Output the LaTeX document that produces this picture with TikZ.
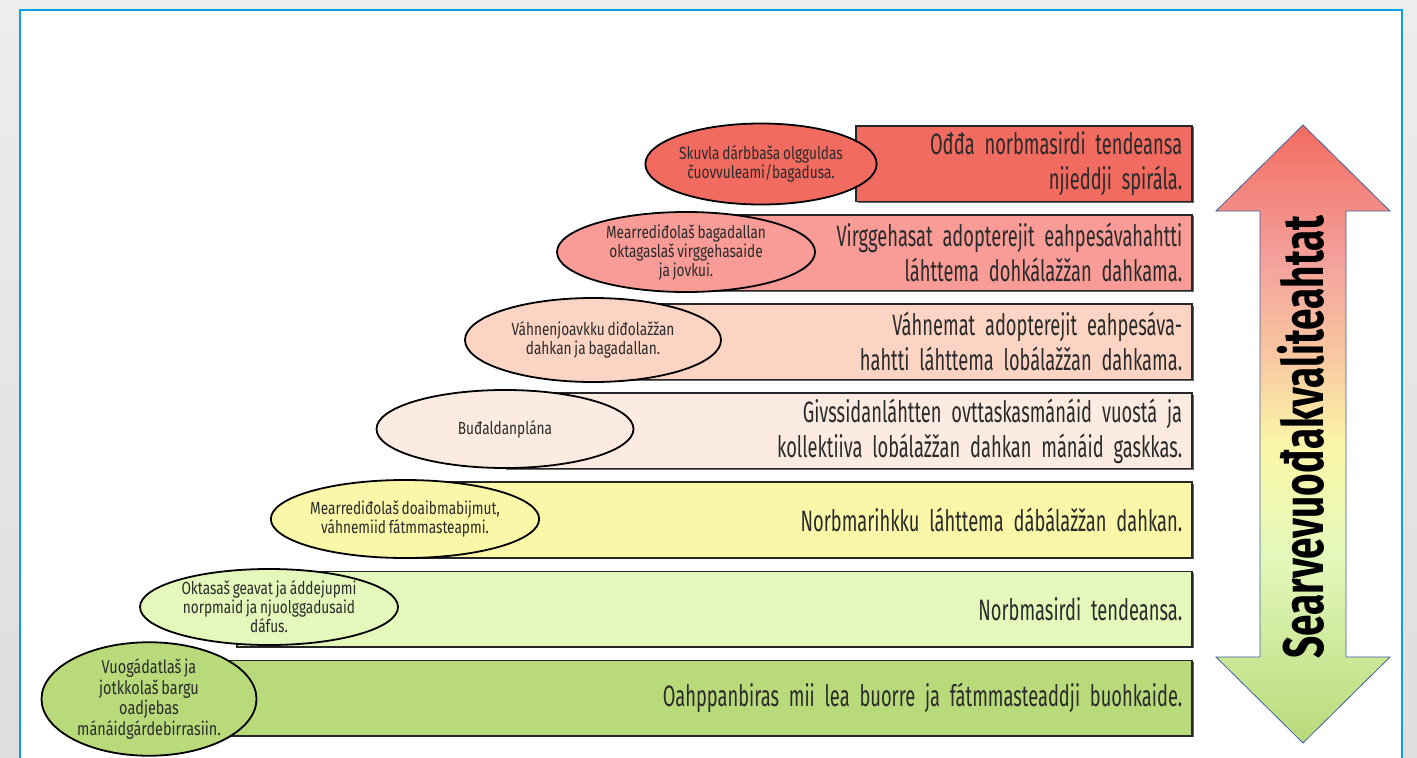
\documentclass[tikz,border=0pt]{standalone}
\usepackage{fontspec}
\setmainfont[FakeStretch=0.62]{Fira Sans}
\newfontfamily\notefont[FakeStretch=0.78]{Fira Sans}
\newfontfamily\qualfont[FakeStretch=0.68]{Fira Sans}
\usetikzlibrary{shapes.geometric,positioning,shadows}

\newcommand\lvlfont{\fontsize{29.5}{35}\selectfont\spaceskip=0.12em plus 0.03em\relax}
\newcommand\notesize{\notefont\fontsize{17.5}{19}\selectfont\spaceskip=0.16em plus 0.03em\relax}
\newcommand\notebig{\notefont\fontsize{18.5}{20.5}\selectfont\spaceskip=0.16em plus 0.03em\relax}

\definecolor{panelblue}{HTML}{0DA0E3}
\definecolor{lvlA}{HTML}{F26B60}
\definecolor{lvlB}{HTML}{F99C97}
\definecolor{lvlC}{HTML}{FCD4C3}
\definecolor{lvlD}{HTML}{FCEBE1}
\definecolor{lvlE}{HTML}{FBF7A8}
\definecolor{lvlF}{HTML}{E3F8BA}
\definecolor{lvlG}{HTML}{B8DA7A}
\definecolor{peach}{HTML}{F8C9A0}
\definecolor{pinkish}{HTML}{F4A19C}
\definecolor{txtgray}{HTML}{2A2A2A}
\definecolor{arrowline}{HTML}{41609E}

\pgfdeclareverticalshading{qualgrad}{100bp}{color(0bp)=(lvlG); color(25bp)=(lvlG); color(40bp)=(lvlF); color(49bp)=(lvlE); color(56bp)=(peach); color(64bp)=(pinkish); color(75bp)=(lvlA); color(100bp)=(lvlA)}

\begin{document}
\begin{tikzpicture}[x=1pt,y=-1pt,node distance=12pt]
	\tikzstyle{lvl}=[draw=black!85,line width=1.6pt,inner xsep=10pt,inner ysep=0pt,minimum height=75.5pt,align=right,text=txtgray,font=\lvlfont,drop shadow={shadow xshift=1.5pt,shadow yshift=-1.5pt,fill=black,opacity=.6}]
	\tikzstyle{note}=[ellipse,draw=black,line width=1.8pt,inner sep=0pt,align=center,text=txtgray,font=\notesize]

	% background and frame
	\useasboundingbox (0,0) rectangle (1417,758);
	\shade[top color=black!7,bottom color=black!13] (0,0) rectangle (1417,758);
	\draw[panelblue,line width=2.5pt,fill=white] (20,10) rectangle (1402,780);

	% levels
	\node[lvl,fill=lvlA,text width=316pt,anchor=north east] (l1) at (1193,125) {Ođđa norbmasirdi tendeansa\\njieddji spirála.};
	\node[lvl,fill=lvlB,text width=483pt,below=12pt of l1.south east,anchor=north east] (l2) {Virggehasat adopterejit eahpesávahahtti\\láhttema dohkálažžan dahkama.};
	\node[lvl,fill=lvlC,text width=578pt,below=12pt of l2.south east,anchor=north east] (l3) {Váhnemat adopterejit eahpesáva-\\hahtti láhttema lobálažžan dahkama.};
	\node[lvl,fill=lvlD,text width=668pt,below=12pt of l3.south east,anchor=north east] (l4) {Givssidanláhtten ovttaskasmánáid vuostá ja\\kollektiiva lobálažžan dahkan mánáid gaskkas.};
	\node[lvl,fill=lvlE,text width=773pt,below=12pt of l4.south east,anchor=north east] (l5) {Norbmarihkku láhttema dábálažžan dahkan.};
	\node[lvl,fill=lvlF,text width=935pt,below=12pt of l5.south east,anchor=north east] (l6) {Norbmasirdi tendeansa.};
	\node[lvl,fill=lvlG,text width=973pt,below=12pt of l6.south east,anchor=north east] (l7) {Oahppanbiras mii lea buorre ja fátmmasteaddji buohkaide.};

	% measures
	\node[note,fill=lvlA,minimum width=218pt,minimum height=81pt] (c1) at (761,164) {Skuvla dárbbaša olgguldas\\čuovvuleami/bagadusa.};
	\node[note,fill=lvlB,minimum width=258pt,minimum height=80pt] (c2) at (686,252) {Mearrediđolaš bagadallan\\oktagaslaš virggehasaide\\ja jovkui.};
	\node[note,fill=lvlC,minimum width=256pt,minimum height=84pt] (c3) at (593,340) {Váhnenjoavkku diđolažžan\\dahkan ja bagadallan.};
	\node[note,fill=lvlD,minimum width=257pt,minimum height=78pt] (c4) at (505,429) {Buđaldanplána};
	\node[note,fill=lvlE,minimum width=257pt,minimum height=78pt] (c5) at (405,519) {Mearrediđolaš doaibmabijmut,\\váhnemiid fátmmasteapmi.};
	\node[note,fill=lvlF,minimum width=258pt,minimum height=76pt] (c6) at (269,607) {Oktasaš geavat ja áddejupmi\\norpmaid ja njuolggadusaid\\dáfus.};
	\node[note,fill=lvlG,minimum width=215pt,minimum height=88pt,font=\notebig] (c7) at (149,699) {Vuogádatlaš ja\\jotkkolaš bargu\\oadjebas\\mánáidgárdebirrasiin.};

	% quality arrow
	\shadedraw[shading=qualgrad,draw=arrowline,line width=0.8pt] (1303,125) -- (1390,211) -- (1346,211) -- (1346,657) -- (1390,657) -- (1303,743) -- (1216,657) -- (1260,657) -- (1260,211) -- (1216,211) -- cycle;
	\node[rotate=90,anchor=base,inner sep=0pt,font=\qualfont\fontsize{57}{60}\selectfont\bfseries] (q) at (1323,437) {Searvevuođakvaliteahtat};
\end{tikzpicture}
\end{document}
